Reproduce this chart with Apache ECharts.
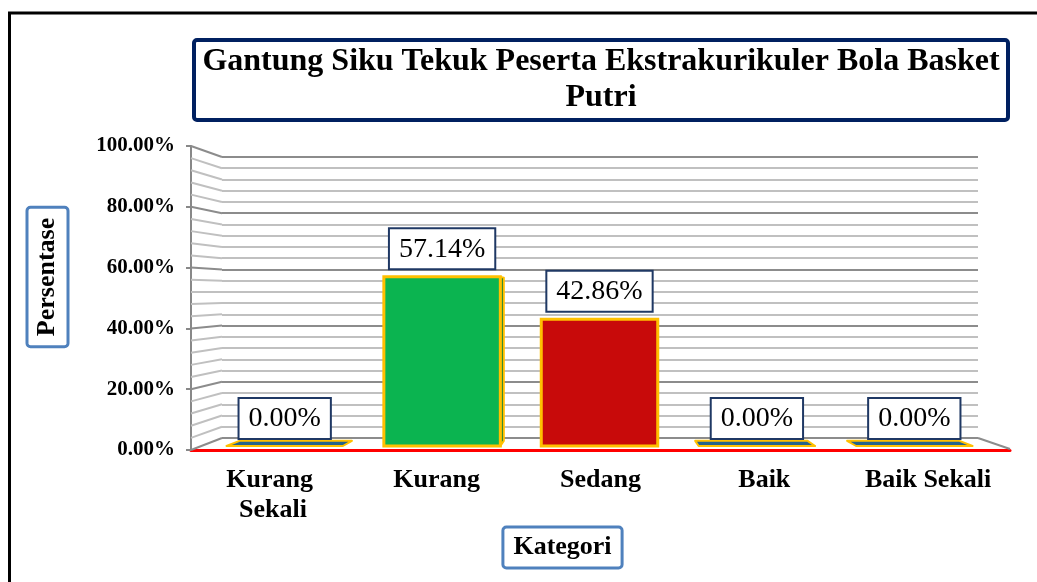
<!DOCTYPE html>
<html>
<head>
<meta charset="utf-8">
<title>Gantung Siku Tekuk</title>
<script src="https://cdn.jsdelivr.net/npm/echarts@6/dist/echarts.min.js"></script>
<style>
  html, body { margin: 0; padding: 0; background: #fff; }
  #main { width: 1037px; height: 582px; }
</style>
</head>
<body>
<div id="main"></div>
<script>
// data
var categories = ['Kurang Sekali', 'Kurang', 'Sedang', 'Baik', 'Baik Sekali'];
var percentages = [0, 57.14, 42.86, 0, 0];
var yTicks = [0, 20, 40, 60, 80, 100];

// style
var barColors = ['#23648A', '#0BB450', '#C80A0A', '#23648A', '#23648A'];
var sideColors = ['#174560', '#08803A', '#8E0707', '#174560', '#174560'];
var majorGrid = '#8C8C8C';
var minorGrid = '#C0C0C0';
var serif = '"Liberation Serif", "Times New Roman", serif';

// three planes of the fake 3D box: front (axes), back wall (grid lines), bars in between
var front = { left: 191, top: 146, width: 819, height: 304 };
var back = { left: 222, top: 157, width: 756, height: 281 };
var bars = { left: 206, top: 150, width: 787, height: 296 };

var chart = echarts.init(document.getElementById('main'));

function renderBar(params, api) {
  var i = api.value(0);
  var v = api.value(1);
  var top = api.coord([i, v]);
  var base = api.coord([i, 0]);
  var w = api.size([1, 0])[0] * 0.74;
  var vp = api.coord([2, 50]); // vanishing point
  var k = 0.965;
  var x0 = top[0] - w / 2, x1 = top[0] + w / 2;
  var y0 = top[1], y1 = base[1];
  function bk(x, y) { return [vp[0] + (x - vp[0]) * k, vp[1] + (y - vp[1]) * k]; }
  var children = [];
  // side faces only when they face the viewer
  if (v > 0 && x1 < vp[0] - 20) {
    children.push({ type: 'polygon', shape: { points: [[x1, y0], [x1, y1], bk(x1, y1), bk(x1, y0)] },
      style: { fill: sideColors[i], stroke: '#FFC000', lineWidth: 2, lineJoin: 'round' } });
  }
  if (v > 0 && x0 > vp[0] + 20) {
    children.push({ type: 'polygon', shape: { points: [[x0, y0], [x0, y1], bk(x0, y1), bk(x0, y0)] },
      style: { fill: sideColors[i], stroke: '#FFC000', lineWidth: 2, lineJoin: 'round' } });
  }
  // top face, seen from above near the floor
  if (y0 > vp[1] + 40) {
    children.push({ type: 'polygon', shape: { points: [[x0, y0], [x1, y0], bk(x1, y0), bk(x0, y0)] },
      style: { fill: v === 0 ? barColors[i] : sideColors[i], stroke: '#FFC000', lineWidth: 2, lineJoin: 'round' } });
  }
  children.push({
    type: 'rect',
    shape: { x: x0, y: y0, width: w, height: y1 - y0 },
    style: { fill: barColors[i], stroke: '#FFC000', lineWidth: v === 0 ? 2 : 3 },
    textContent: {
      type: 'text',
      z2: 50,
      style: {
        text: v.toFixed(2) + '%',
        font: '28px ' + serif,
        fill: '#000',
        backgroundColor: '#fff',
        borderColor: '#1F3864',
        borderWidth: 2,
        lineHeight: 30,
        padding: [5, 9, 4, 9]
      }
    },
    textConfig: { position: 'top', distance: 7 }
  });
  return { type: 'group', children: children };
}

var option = {
  animation: false,
  backgroundColor: '#fff',
  title: {
    text: 'Gantung Siku Tekuk Peserta Ekstrakurikuler Bola Basket\nPutri',
    left: 592,
    top: 40,
    textAlign: 'center',
    padding: [4, 9],
    borderColor: '#002060',
    borderWidth: 4,
    borderRadius: 3,
    textStyle: {
      fontFamily: serif,
      fontWeight: 'bold',
      fontSize: 32,
      lineHeight: 36,
      color: '#000'
    }
  },
  grid: [
    { left: front.left, top: front.top, width: front.width, height: front.height },
    { left: back.left, top: back.top, width: back.width, height: back.height },
    { left: bars.left, top: bars.top, width: bars.width, height: bars.height }
  ],
  xAxis: [
    {
      type: 'category',
      gridIndex: 0,
      data: categories,
      axisLine: { lineStyle: { color: '#FF0000', width: 3 } },
      axisTick: { show: false },
      axisLabel: {
        interval: 0,
        margin: 15,
        width: 150,
        overflow: 'break',
        fontFamily: serif,
        fontWeight: 'bold',
        fontSize: 26,
        lineHeight: 30,
        color: '#000'
      }
    },
    { type: 'category', gridIndex: 1, data: categories, show: false },
    { type: 'category', gridIndex: 2, data: categories, show: false }
  ],
  yAxis: [
    {
      type: 'value',
      gridIndex: 0,
      min: yTicks[0],
      max: yTicks[yTicks.length - 1],
      interval: yTicks[1] - yTicks[0],
      axisLine: { show: true, lineStyle: { color: '#888', width: 2 } },
      axisTick: { show: true, length: 5, lineStyle: { color: '#888', width: 2 } },
      splitLine: { show: false },
      axisLabel: {
        margin: 16,
        formatter: function (val) { return val.toFixed(2) + '%'; },
        fontFamily: serif,
        fontWeight: 'bold',
        fontSize: 21,
        color: '#000'
      }
    },
    {
      type: 'value',
      gridIndex: 1,
      min: 0,
      max: 100,
      interval: 4,
      axisLine: { show: false },
      axisTick: { show: false },
      axisLabel: { show: false },
      splitLine: {
        show: true,
        lineStyle: { color: [majorGrid, minorGrid, minorGrid, minorGrid, minorGrid], width: 2 }
      }
    },
    { type: 'value', gridIndex: 2, min: 0, max: 100, show: false }
  ],
  series: [
    {
      type: 'custom',
      xAxisIndex: 2,
      yAxisIndex: 2,
      renderItem: renderBar,
      data: percentages.map(function (v, i) { return [i, v]; }),
      z: 5
    }
  ]
};

chart.setOption(option);

// side wall lines and frame, placed from the axes' own scales
var elements = [
  {
    type: 'rect',
    shape: { x: 9.5, y: 13, width: 1200, height: 800 },
    style: { fill: null, stroke: '#000', lineWidth: 3 },
    silent: true
  },
  {
    type: 'text',
    x: 47.5,
    y: 277,
    rotation: Math.PI / 2,
    style: {
      text: 'Persentase',
      font: 'bold 26px ' + serif,
      fill: '#000',
      align: 'center',
      verticalAlign: 'middle',
      textAlign: 'center',
      textVerticalAlign: 'middle',
      backgroundColor: '#fff',
      borderColor: '#4F81BD',
      borderWidth: 3,
      borderRadius: 2,
      lineHeight: 28,
      padding: [5, 9]
    }
  },
  {
    type: 'text',
    x: 562.5,
    y: 547.5,
    style: {
      text: 'Kategori',
      font: 'bold 26px ' + serif,
      fill: '#000',
      align: 'center',
      verticalAlign: 'middle',
      textAlign: 'center',
      textVerticalAlign: 'middle',
      backgroundColor: '#fff',
      borderColor: '#4F81BD',
      borderWidth: 3,
      borderRadius: 2,
      lineHeight: 28,
      padding: [5, 9]
    }
  }
];

for (var v = 0; v <= 100; v += 4) {
  var yF = chart.convertToPixel({ yAxisIndex: 0 }, v);
  var yB = chart.convertToPixel({ yAxisIndex: 1 }, v);
  elements.push({
    type: 'line',
    shape: { x1: front.left, y1: yF, x2: back.left, y2: yB },
    style: { stroke: v % 20 === 0 ? majorGrid : minorGrid, lineWidth: 2 },
    z: 1,
    silent: true
  });
}
// right edge of the floor
elements.push({
  type: 'line',
  shape: {
    x1: back.left + back.width, y1: chart.convertToPixel({ yAxisIndex: 1 }, 0),
    x2: front.left + front.width, y2: chart.convertToPixel({ yAxisIndex: 0 }, 0) - 1
  },
  style: { stroke: majorGrid, lineWidth: 2 },
  z: 1,
  silent: true
});

chart.setOption({ graphic: { elements: elements } });
</script>
</body>
</html>
